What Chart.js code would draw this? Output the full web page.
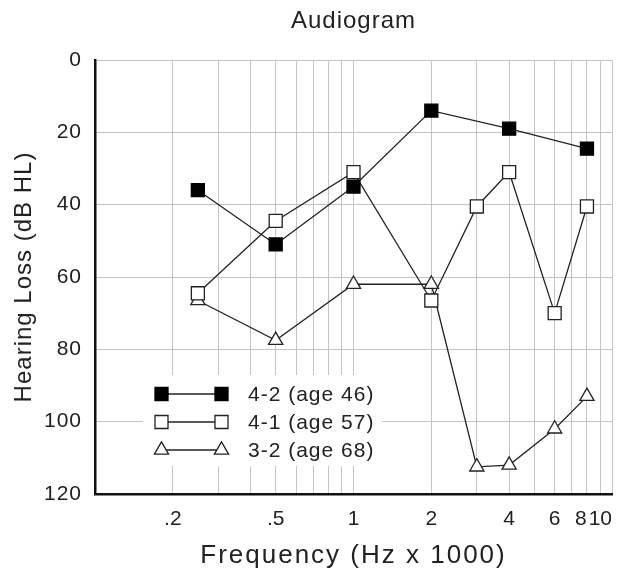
<!DOCTYPE html>
<html>
<head>
<meta charset="utf-8">
<script src="https://cdn.jsdelivr.net/npm/chart.js@4/dist/chart.umd.min.js"></script>
<style>
html,body{margin:0;padding:0;background:#fff;}
canvas{display:block;}
</style>
</head>
<body>
<canvas id="c" width="625" height="571"></canvas>
<script>
// ---- data ----
const seriesLabels = ['4-2 (age 46)', '4-1 (age 57)', '3-2 (age 68)'];
const freqs42 = [0.25, 0.5, 1, 2, 4, 8];
const loss42  = [36, 51, 35, 14, 19, 24.5];
const freqs41 = [0.25, 0.5, 1, 2, 3, 4, 6, 8];
const loss41  = [64.5, 44.5, 31, 66.5, 40.5, 31, 70, 40.5];
const freqs32 = [0.25, 0.5, 1, 2, 3, 4, 6, 8];
const loss32  = [66.5, 77.5, 62, 62, 112.5, 112, 102, 93];
const xGridValues  = [0.1, 0.2, 0.3, 0.4, 0.5, 0.6, 0.7, 0.8, 0.9, 1, 2, 3, 4, 5, 6, 7, 8, 9, 10];
const xLabelValues = [0.2, 0.5, 1, 2, 4, 6, 8, 10];
const xLabelTexts  = ['.2', '.5', '1', '2', '4', '6', '8', '10'];
const yTickValues  = [0, 20, 40, 60, 80, 100, 120];

const FONT = "'Liberation Sans', Arial, Helvetica, sans-serif";
const TXT = '#222';
const LINE = '#222';

function pts(fs, vs) { return fs.map((f, i) => ({x: f, y: vs[i]})); }

const styles = [
  {pointStyle: 'rect', radius: 9.2, fill: '#000', stroke: '#000'},
  {pointStyle: 'rect', radius: 9.2, fill: '#fff', stroke: '#222'},
  {pointStyle: 'triangle', radius: 8.2, fill: '#fff', stroke: '#222'}
];
const seriesData = [pts(freqs42, loss42), pts(freqs41, loss41), pts(freqs32, loss32)];

const datasets = seriesData.map((d, i) => ({
  label: seriesLabels[i],
  data: d,
  borderColor: LINE,
  borderWidth: 1.3,
  tension: 0,
  fill: false,
  pointStyle: styles[i].pointStyle,
  pointRadius: styles[i].radius,
  pointHoverRadius: styles[i].radius,
  pointBackgroundColor: styles[i].fill,
  pointBorderColor: styles[i].stroke,
  pointBorderWidth: 1.3,
  clip: false
}));

function wrapSpacing(obj, method, sp) {
  if (!obj || obj['_sp_' + method]) return;
  const orig = obj[method];
  obj[method] = function (...args) {
    const c = this.ctx;
    const prev = c.letterSpacing;
    c.letterSpacing = sp;
    const r = orig.apply(this, args);
    c.letterSpacing = prev;
    return r;
  };
  obj['_sp_' + method] = true;
}

// nudge the crowded "8" tick label left, as in the original figure
function wrapLabelNudge(scale) {
  if (!scale || scale._nudged) return;
  const orig = scale.getLabelItems;
  scale.getLabelItems = function (...args) {
    const items = orig.apply(this, args);
    items.forEach(it => {
      if (it.label === '8' && !it._shifted && it.options && it.options.translation) {
        it.options.translation[0] -= 6;
        it._shifted = true;
      }
    });
    return items;
  };
  scale._nudged = true;
}

const spacingPlugin = {
  id: 'spacing',
  beforeInit(chart) { chart.ctx.letterSpacing = '1px'; },
  beforeLayout(chart) { chart.ctx.letterSpacing = '1px'; },
  beforeDraw(chart) {
    chart.ctx.letterSpacing = '1px';
    wrapSpacing(chart.scales.x, 'drawTitle', '2px');
    wrapSpacing(chart.scales.x, 'drawLabels', '0px');
    wrapLabelNudge(chart.scales.x);
  }
};

function drawMarker(ctx, st, x, y) {
  ctx.save();
  ctx.fillStyle = st.fill;
  ctx.strokeStyle = st.stroke;
  ctx.lineWidth = 1.3;
  if (Chart.helpers && Chart.helpers.drawPoint) {
    Chart.helpers.drawPoint(ctx, {pointStyle: st.pointStyle, radius: st.radius, rotation: 0, borderWidth: 1.3}, x, y);
  } else {
    ctx.beginPath();
    if (st.pointStyle === 'rect') {
      const s = st.radius * Math.SQRT1_2;
      ctx.rect(x - s, y - s, 2 * s, 2 * s);
    } else {
      for (let k = 0; k < 3; k++) {
        const a = k * 2 * Math.PI / 3;
        const px = x + Math.sin(a) * st.radius, py = y - Math.cos(a) * st.radius;
        if (k === 0) ctx.moveTo(px, py); else ctx.lineTo(px, py);
      }
      ctx.closePath();
    }
    ctx.fill(); ctx.stroke();
  }
  ctx.restore();
}

const legendPlugin = {
  id: 'insideLegend',
  beforeDatasetsDraw(chart) {
    const ctx = chart.ctx;
    const a = chart.chartArea;
    const bx = a.left + 48, by = a.top + 315, bw = 239, bh = 91;
    ctx.save();
    ctx.fillStyle = '#fff';
    ctx.fillRect(bx, by, bw, bh);
    const x1 = a.left + 66.5, x2 = a.left + 126.5, tx = a.left + 153;
    chart.data.datasets.forEach((ds, i) => {
      const y = a.top + 334 + i * 28;
      ctx.strokeStyle = LINE;
      ctx.lineWidth = 1.3;
      ctx.beginPath(); ctx.moveTo(x1, y); ctx.lineTo(x2, y); ctx.stroke();
      drawMarker(ctx, styles[i], x1, y);
      drawMarker(ctx, styles[i], x2, y);
      ctx.fillStyle = TXT;
      ctx.letterSpacing = '1px';
      ctx.font = "21px " + FONT;
      ctx.textAlign = 'left';
      ctx.textBaseline = 'middle';
      ctx.fillText(ds.label, tx, y + 1);
    });
    ctx.restore();
  }
};

new Chart(document.getElementById('c'), {
  type: 'line',
  data: {datasets},
  plugins: [spacingPlugin, legendPlugin],
  options: {
    responsive: false,
    animation: false,
    events: [],
    layout: {padding: {left: 0, right: 12.5, top: 0, bottom: 0}},
    plugins: {
      legend: {display: false},
      tooltip: {enabled: false},
      title: {
        display: true, text: 'Audiogram', fullSize: false, color: TXT,
        font: {family: FONT, size: 24, weight: 'normal'},
        padding: {top: 7, bottom: 24.2}
      }
    },
    scales: {
      x: {
        type: 'logarithmic', min: 0.1, max: 10,
        afterBuildTicks: s => { s.ticks = xGridValues.map(v => ({value: v})); },
        afterFit: s => { s.height = 77; },
        ticks: {
          autoSkip: false, maxRotation: 0, minRotation: 0, align: 'inner',
          padding: 13, color: TXT, font: {family: FONT, size: 21},
          callback: (v) => {
            const k = xLabelValues.findIndex(t => Math.abs(t - v) < 1e-9);
            return k >= 0 ? xLabelTexts[k] : '';
          }
        },
        grid: {color: '#c4c4c4', lineWidth: 1, drawTicks: false},
        border: {color: '#111', width: 2.5},
        title: {display: true, text: 'Frequency (Hz x 1000)', color: TXT,
          font: {family: FONT, size: 26, weight: 'normal'}, padding: {top: 0, bottom: 0}}
      },
      y: {
        type: 'linear', reverse: true, min: 0, max: 120,
        afterBuildTicks: s => { s.ticks = yTickValues.map(v => ({value: v})); },
        afterFit: s => { s.width = 95; },
        ticks: {padding: 13, color: TXT, font: {family: FONT, size: 21}},
        grid: {color: '#c4c4c4', lineWidth: 1, drawTicks: false},
        border: {color: '#111', width: 2.5},
        title: {display: true, text: 'Hearing Loss (dB HL)', color: TXT,
          font: {family: FONT, size: 24, weight: 'normal'}, padding: {top: 10, bottom: 0}}
      }
    }
  }
});
</script>
</body>
</html>
